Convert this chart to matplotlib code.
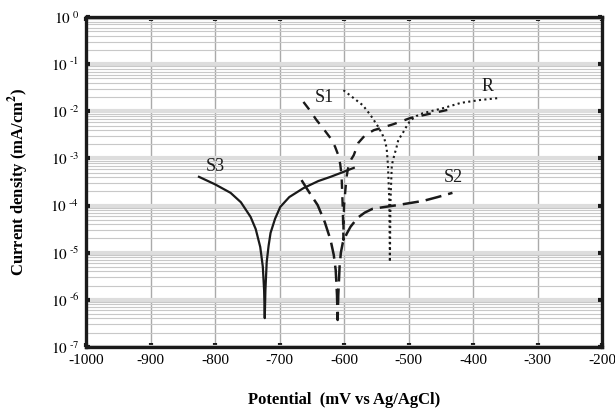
import math
import matplotlib
matplotlib.use("Agg")
import matplotlib.pyplot as plt
from matplotlib.ticker import LogLocator, FixedLocator, NullFormatter, FuncFormatter

plt.rcParams['font.family'] = ['Liberation Serif', 'DejaVu Serif']
plt.rcParams['mathtext.fontset'] = 'stix'
plt.rcParams['axes.unicode_minus'] = False

# potential (mV vs Ag/AgCl) and log10 of current density (mA/cm2)
s3_x = [-825, -800, -776, -760, -745, -737, -730, -726, -724, -723,
        -722, -720, -717, -714, -707, -699, -685, -663, -640, -621, -600, -585]
s3_y = [-3.39, -3.55, -3.73, -3.93, -4.24, -4.50, -4.88, -5.30, -5.80, -6.39,
        -5.80, -5.20, -4.85, -4.58, -4.28, -4.03, -3.82, -3.63, -3.48, -3.39, -3.28, -3.20]

s1_x = [-663, -653, -643, -632, -621, -614, -609, -606, -604, -603, -602, -601,
        -601, -600, -598, -596, -593, -589, -585, -578, -567, -554, -523, -497, -470, -440]
s1_y = [-1.80, -1.98, -2.18, -2.37, -2.57, -2.75, -2.93, -3.12, -3.35, -3.70, -4.10, -4.73,
        -4.41, -4.00, -3.67, -3.38, -3.14, -3.02, -2.93, -2.67, -2.50, -2.40, -2.27, -2.14, -2.06, -1.97]

s2_x = [-666, -655, -641, -630, -621, -616, -613, -611, -610,
        -609, -607, -605, -602, -596, -590, -579, -568, -556, -537, -517, -477, -455, -432]
s2_y = [-3.46, -3.70, -3.99, -4.35, -4.73, -5.05, -5.37, -5.90, -6.43,
        -5.90, -5.30, -5.00, -4.79, -4.60, -4.45, -4.26, -4.15, -4.07, -4.03, -3.99, -3.90, -3.82, -3.73]

r_x = [-601, -586, -571, -559, -547, -541, -537, -534, -532, -531, -530, -529.5, -529,
       -528.5, -528, -527, -526, -522, -519, -516, -509, -502, -497, -488, -478, -446, -419, -390, -362]
r_y = [-1.55, -1.71, -1.87, -2.08, -2.33, -2.48, -2.61, -2.78, -3.14, -3.50, -3.88, -4.50, -5.20,
       -4.50, -3.88, -3.50, -3.14, -2.92, -2.78, -2.61, -2.46, -2.29, -2.19, -2.10, -2.04, -1.93, -1.82, -1.76, -1.72]

curve_names = ['S3', 'S1', 'S2', 'R']
name_x = [-800, -630, -430, -377]
name_y = [6.6e-4, 2.0e-2, 4.0e-4, 3.3e-2]

x_ticks = [-1000, -900, -800, -700, -600, -500, -400, -300, -200]


def to_cd(logs):
    return [10 ** v for v in logs]


def decade_label(v, pos):
    e = round(math.log10(v))
    if e == 0:
        return r'$10^{\ 0}$'
    return r'$10^{\ \text{-}%d}$' % -e


fig = plt.figure(figsize=(6.15, 4.09), dpi=100)
ax = fig.add_axes([0.140, 0.152, 0.839, 0.806])

ink = '#1a1a1a'
ax.plot(s3_x, to_cd(s3_y), color=ink, lw=1.6, solid_joinstyle='round')
ax.plot(s1_x, to_cd(s1_y), color=ink, lw=1.7, linestyle=(0, (4, 3.5)))
ax.plot(s2_x, to_cd(s2_y), color=ink, lw=1.8, linestyle=(0, (6.5, 2.8)))
ax.plot(r_x, to_cd(r_y), color=ink, lw=1.5, linestyle=(0, (1, 1.6)))

for name, tx, ty in zip(curve_names, name_x, name_y):
    ax.text(tx, ty, name, fontsize=13, ha='center', va='center', color=ink)

ax.set_yscale('log')
ax.set_xlim(-1000, -200)
ax.set_ylim(1e-7, 1)

ax.xaxis.set_major_locator(FixedLocator(x_ticks))
ax.yaxis.set_major_locator(LogLocator(base=10, numticks=10))
ax.yaxis.set_minor_locator(LogLocator(base=10, subs=range(2, 10), numticks=20))
ax.yaxis.set_minor_formatter(NullFormatter())
ax.yaxis.set_major_formatter(FuncFormatter(decade_label))

ax.grid(True, axis='x', which='major', color='#aaaaaa', lw=1.0)
ax.grid(True, axis='y', which='major', color='#dddddd', lw=3.0)
ax.grid(True, axis='y', which='minor', color='#c8c8c8', lw=0.8)
ax.set_axisbelow(True)

for sp in ax.spines.values():
    sp.set_linewidth(2.4)
    sp.set_color(ink)

ax.tick_params(which='major', direction='in', length=3, width=3, color=ink,
               top=True, right=True, labelsize=11, pad=5)
ax.tick_params(which='minor', length=0)

ax.set_xlabel('Potential  (mV vs Ag/AgCl)', fontsize=12, fontweight='bold', labelpad=18)
ax.set_ylabel('Current density (mA/cm$^\\mathbf{2}$)', fontsize=12, fontweight='bold', labelpad=14)

fig.savefig('out.png', dpi=100)
